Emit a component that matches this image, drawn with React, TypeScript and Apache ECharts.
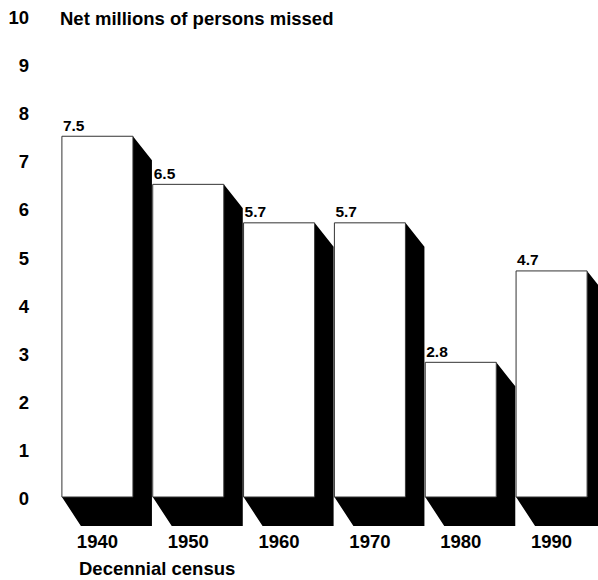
import React, { useEffect, useRef } from "react";
import * as echarts from "echarts";

const categories = ["1940", "1950", "1960", "1970", "1980", "1990"];
const missed = [7.5, 6.5, 5.7, 5.7, 2.8, 4.7];
const valueLabels = ["7.5", "6.5", "5.7", "5.7", "2.8", "4.7"];
const yTicks = [0, 10, 1];
const chartTitle = "Net millions of persons missed";
const xTitle = "Decennial census";

const FONT = "'Liberation Sans', Arial, Helvetica, sans-serif";

export default function App() {
  const ref = useRef<HTMLDivElement>(null);
  useEffect(() => {
    if (!ref.current) return;
    const chart = echarts.init(ref.current, null, { renderer: "svg" });
    const DX = 19;
    const DY_TOP = 24;
    const DY_BOT = 29;
    chart.setOption({
      animation: false,
      backgroundColor: "#ffffff",
      graphic: [
        {
          type: "text",
          left: 60,
          top: 9,
          style: {
            text: chartTitle,
            fontFamily: FONT,
            fontWeight: "bold",
            fontSize: 18.5,
            fill: "#000",
          },
        },
        {
          type: "text",
          left: 79,
          top: 559,
          style: {
            text: xTitle,
            fontFamily: FONT,
            fontWeight: "bold",
            fontSize: 18.5,
            lineHeight: 18,
            fill: "#000",
          },
        },
      ],
      grid: { left: 52, right: 1, top: 16, bottom: 83, containLabel: false, outerBoundsMode: "none" },
      xAxis: {
        type: "category",
        data: categories,
        axisLine: { show: false },
        axisTick: { show: false },
        axisLabel: {
          margin: 35,
          fontFamily: FONT,
          fontWeight: "bold",
          fontSize: 18.5,
          color: "#000",
        },
        splitLine: { show: false },
      },
      yAxis: {
        type: "value",
        min: yTicks[0],
        max: yTicks[1],
        interval: yTicks[2],
        axisLine: { show: false },
        axisTick: { show: false },
        splitLine: { show: false },
        axisLabel: {
          margin: 23,
          fontFamily: FONT,
          fontWeight: "bold",
          fontSize: 18.5,
          color: "#000",
          verticalAlign: "top",
          lineHeight: 3,
        },
      },
      series: [
        {
          type: "custom",
          clip: false,
          data: missed.map((v, i) => [i, v]),
          renderItem: (params: any, api: any) => {
            const idx = api.value(0);
            const val = api.value(1);
            const top = api.coord([idx, val]);
            const base = api.coord([idx, 0]);
            const band = api.size([1, 0])[0];
            const w = band * 0.782;
            const L = top[0] - w / 2;
            const R = top[0] + w / 2;
            const T = top[1];
            const B = base[1];
            return {
              type: "group",
              children: [
                {
                  type: "polygon",
                  shape: {
                    points: [
                      [R, T],
                      [R + DX, T + DY_TOP],
                      [R + DX, B + DY_BOT],
                      [L + DX, B + DY_BOT],
                      [L, B],
                      [R, B],
                    ],
                  },
                  style: { fill: "#000", stroke: "#000", lineWidth: 0 },
                },
                {
                  type: "rect",
                  shape: { x: L, y: T, width: w, height: B - T },
                  style: { fill: "#fff", stroke: "#333", lineWidth: 1 },
                },
                {
                  type: "text",
                  x: L + 1,
                  y: T - 3,
                  style: {
                    text: valueLabels[params.dataIndex],
                    fontFamily: FONT,
                    fontWeight: "bold",
                    fontSize: 15.5,
                    fill: "#000",
                    align: "left",
                    verticalAlign: "bottom",
                  },
                },
              ],
            };
          },
        },
      ],
    });
    return () => chart.dispose();
  }, []);
  return (
    <div
      ref={ref}
      style={{ position: "fixed", left: 0, top: 0, width: 598, height: 580 }}
    />
  );
}
